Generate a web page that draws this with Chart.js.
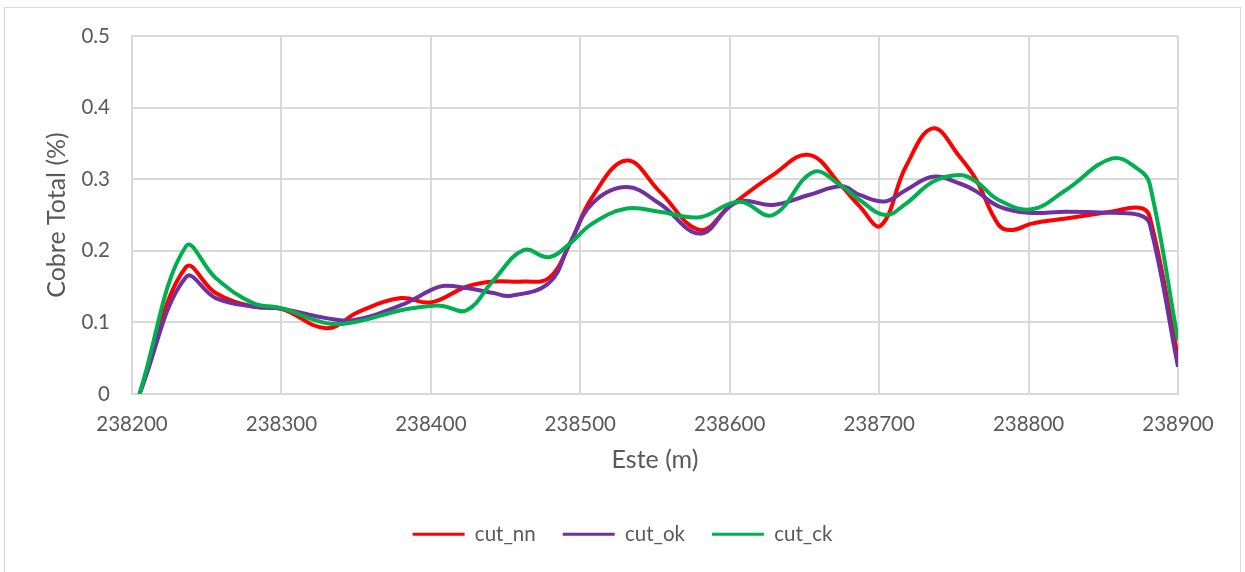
<!DOCTYPE html>
<html>
<head>
<meta charset="utf-8">
<script src="https://cdn.jsdelivr.net/npm/chart.js@4.4.1/dist/chart.umd.min.js"></script>
<style>
  html, body { margin: 0; padding: 0; background: #fff; }
  #frame {
    position: absolute; left: 0; top: 0; width: 1245px; height: 572px;
  }
  #border {
    position: absolute; left: 4px; top: 7px; width: 1237px; height: 570px;
    border: 1px solid #d9d9d9; box-sizing: border-box;
  }
  canvas { position: absolute; left: 0; top: 0; }
</style>
</head>
<body>
<div id="frame">
  <div id="border"></div>
  <canvas id="chart" width="1245" height="572"></canvas>
</div>
<script>
// x axis ticks (Este, m)
const xTicks = [238200, 238300, 238400, 238500, 238600, 238700, 238800, 238900];

// cut_nn
const nnX = [238205, 238236, 238256, 238281, 238300, 238330, 238352, 238380, 238400, 238424, 238442, 238462, 238479, 238493, 238508, 238531, 238553, 238580, 238600, 238629, 238653, 238675, 238687, 238701, 238718, 238736, 238754, 238765, 238780, 238789, 238802, 238825, 238856, 238874, 238881, 238900];
const nnY = [0, 0.177, 0.141, 0.122, 0.119, 0.092, 0.115, 0.134, 0.128, 0.150, 0.157, 0.157, 0.162, 0.210, 0.275, 0.326, 0.283, 0.229, 0.262, 0.306, 0.334, 0.290, 0.262, 0.235, 0.318, 0.371, 0.331, 0.299, 0.236, 0.229, 0.238, 0.245, 0.255, 0.260, 0.248, 0.052];

// cut_ok
const okX = [238205, 238236, 238256, 238281, 238300, 238330, 238348, 238380, 238400, 238408, 238424, 238442, 238453, 238479, 238493, 238508, 238531, 238553, 238580, 238600, 238609, 238629, 238653, 238675, 238687, 238704, 238718, 238736, 238754, 238765, 238780, 238800, 238825, 238856, 238874, 238881, 238900];
const okY = [0, 0.163, 0.134, 0.122, 0.119, 0.106, 0.103, 0.124, 0.145, 0.151, 0.148, 0.141, 0.137, 0.155, 0.210, 0.266, 0.289, 0.266, 0.224, 0.262, 0.270, 0.264, 0.278, 0.290, 0.278, 0.269, 0.285, 0.3035, 0.294, 0.283, 0.262, 0.253, 0.2546, 0.253, 0.250, 0.238, 0.038];

// cut_ck
const ckX = [238205, 238236, 238256, 238281, 238300, 238330, 238350, 238380, 238400, 238408, 238424, 238442, 238462, 238479, 238493, 238508, 238531, 238553, 238580, 238600, 238609, 238629, 238656, 238675, 238687, 238704, 238718, 238736, 238754, 238765, 238780, 238802, 238825, 238856, 238874, 238881, 238900];
const ckY = [0, 0.206, 0.162, 0.127, 0.120, 0.099, 0.101, 0.117, 0.123, 0.123, 0.117, 0.159, 0.201, 0.191, 0.210, 0.238, 0.259, 0.2546, 0.247, 0.266, 0.268, 0.250, 0.310, 0.290, 0.271, 0.250, 0.266, 0.2965, 0.306, 0.2965, 0.271, 0.258, 0.285, 0.329, 0.313, 0.294, 0.075];

const toPoints = (xs, ys) => xs.map((x, i) => ({ x, y: ys[i] }));

const textColor = "#595959";
const gridColor = "#d9d9d9";
const tickFont = { family: "Lato", size: 20.5 };
const titleFont = { family: "Lato", size: 25 };

const makeSet = (label, xs, ys, color, order) => ({
  label,
  data: toPoints(xs, ys),
  borderColor: color,
  backgroundColor: color,
  borderWidth: 4,
  pointRadius: 0,
  tension: 0.4,
  fill: false,
  order,
});

new Chart(document.getElementById("chart"), {
  type: "line",
  data: {
    datasets: [
      makeSet("cut_nn", nnX, nnY, "#FF0000", 2),
      makeSet("cut_ok", okX, okY, "#7030A0", 1),
      makeSet("cut_ck", ckX, ckY, "#00B050", 0),
    ],
  },
  options: {
    responsive: false,
    animation: false,
    layout: { padding: { top: 36, left: 0, right: 0, bottom: 17.5 } },
    plugins: {
      tooltip: { enabled: false },
      legend: {
        position: "bottom",
        labels: {
          color: textColor,
          font: tickFont,
          boxWidth: 52,
          boxHeight: 3,
          padding: 27,
          sort: (a, b) => a.datasetIndex - b.datasetIndex,
          // thin line sample instead of a stroked box
          generateLabels: (chart) =>
            chart.data.datasets.map((ds, i) => ({
              text: ds.label,
              fillStyle: ds.borderColor,
              strokeStyle: ds.borderColor,
              lineWidth: 0,
              fontColor: textColor,
              hidden: !chart.isDatasetVisible(i),
              datasetIndex: i,
            })),
        },
      },
    },
    scales: {
      x: {
        type: "linear",
        min: 238200,
        max: 238900,
        afterBuildTicks: (scale) => {
          scale.ticks = xTicks.map((v) => ({ value: v }));
        },
        afterFit: (scale) => { scale.height = 103; },
        grid: { color: gridColor, lineWidth: 2, drawTicks: false },
        border: { color: gridColor, width: 2 },
        ticks: {
          color: textColor,
          font: tickFont,
          padding: 18,
          maxRotation: 0,
          callback: (v) => String(v),
        },
        title: {
          display: true,
          text: "Este (m)",
          color: textColor,
          font: titleFont,
          padding: { top: 0, bottom: 22 },
        },
      },
      y: {
        min: 0,
        max: 0.5,
        afterFit: (scale) => { scale.width = 132; },
        grid: { color: gridColor, lineWidth: 2, drawTicks: false },
        border: { color: gridColor, width: 2 },
        ticks: {
          color: textColor,
          font: tickFont,
          stepSize: 0.1,
          padding: 22,
          callback: (v) => String(Math.round(v * 10) / 10),
        },
        title: {
          display: true,
          text: "Cobre Total (%)",
          color: textColor,
          font: titleFont,
          padding: { top: 42, bottom: 0 },
        },
      },
      pad: {
        position: "right",
        display: true,
        grid: { display: false },
        border: { display: false },
        ticks: { display: false },
        afterFit: (scale) => { scale.width = 67; },
      },
    },
  },
});
</script>
</body>
</html>
